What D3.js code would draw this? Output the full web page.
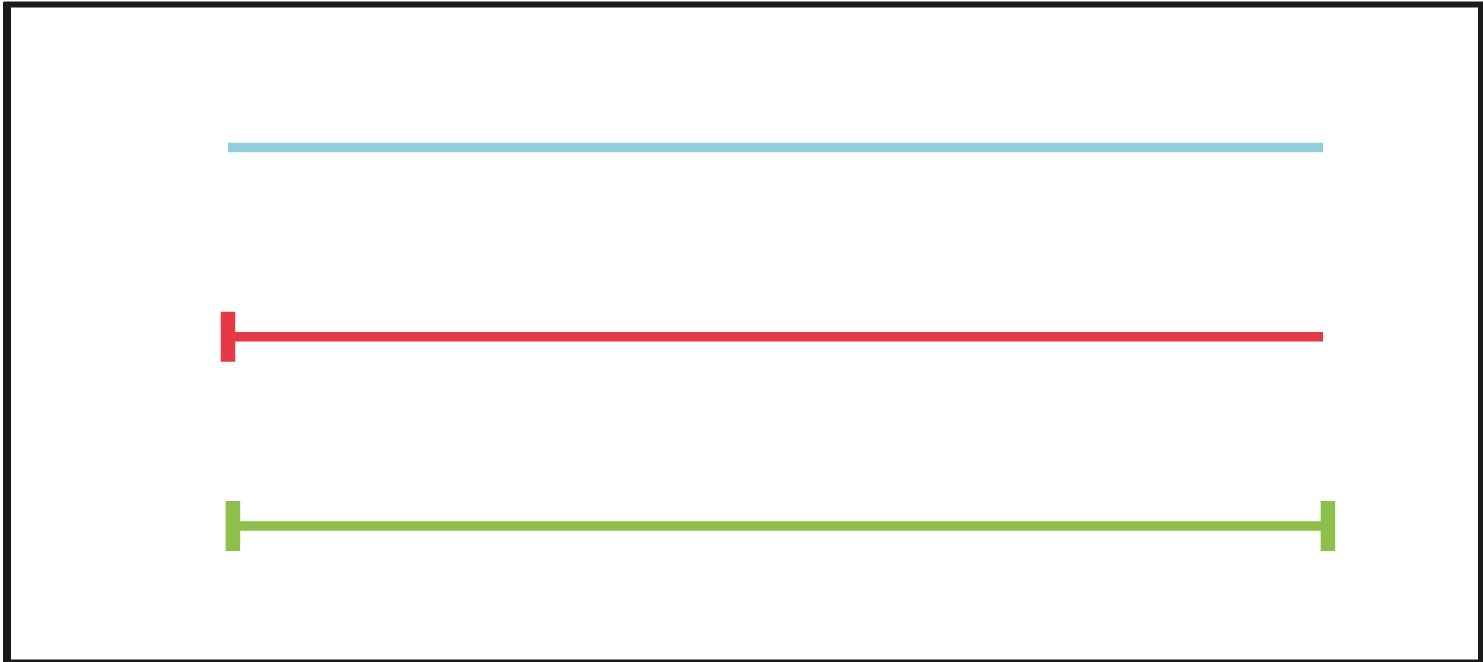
<!DOCTYPE html>
<html>
<head>
<meta charset="utf-8">
<script src="https://cdn.jsdelivr.net/npm/d3@7"></script>
<style>
  html, body { margin: 0; padding: 0; background: #fff; }
</style>
</head>
<body>
<div id="chart"></div>
<script>
// row data
const rows = ["plain", "startCap", "bothCaps"];
const starts = [0, 0, 0.45];
const ends = [100, 100, 100.45];
const capStart = [false, true, true];
const capEnd = [false, false, true];

const colors = ["#92cddc", "#e63946", "#8cc04a"];

const width = 1483, height = 662;

const svg = d3.select("#chart")
  .append("svg")
  .attr("width", width)
  .attr("height", height);

// frame
svg.append("rect")
  .attr("x", 7).attr("y", 4.5)
  .attr("width", 1474).attr("height", 658)
  .attr("fill", "#fff")
  .attr("stroke", "#1a1a1a")
  .attr("stroke-width", 6);
svg.append("rect").attr("x", 3).attr("y", 2).attr("width", 8).attr("height", 660).attr("fill", "#1a1a1a");

const x = d3.scaleLinear().domain([0, 100]).range([228, 1323]);
const y = d3.scalePoint().domain(rows).range([147.5, 526]);

const data = rows.map((r, i) => ({
  row: r, start: starts[i], end: ends[i],
  capStart: capStart[i], capEnd: capEnd[i], color: colors[i]
}));

const g = svg.selectAll("g.row")
  .data(data)
  .enter()
  .append("g")
  .attr("class", "row");

g.append("line")
  .attr("x1", d => x(d.start))
  .attr("x2", d => x(d.end))
  .attr("y1", d => y(d.row))
  .attr("y2", d => y(d.row))
  .attr("stroke", d => d.color)
  .attr("stroke-width", 9.5);

const capW = 14.5, capH = 50;

g.filter(d => d.capStart)
  .append("rect")
  .attr("x", d => x(d.start) - capW / 2)
  .attr("y", d => y(d.row) - capH / 2)
  .attr("width", capW)
  .attr("height", capH)
  .attr("fill", d => d.color);

g.filter(d => d.capEnd)
  .append("rect")
  .attr("x", d => x(d.end) - capW / 2)
  .attr("y", d => y(d.row) - capH / 2)
  .attr("width", capW)
  .attr("height", capH)
  .attr("fill", d => d.color);
</script>
</body>
</html>
